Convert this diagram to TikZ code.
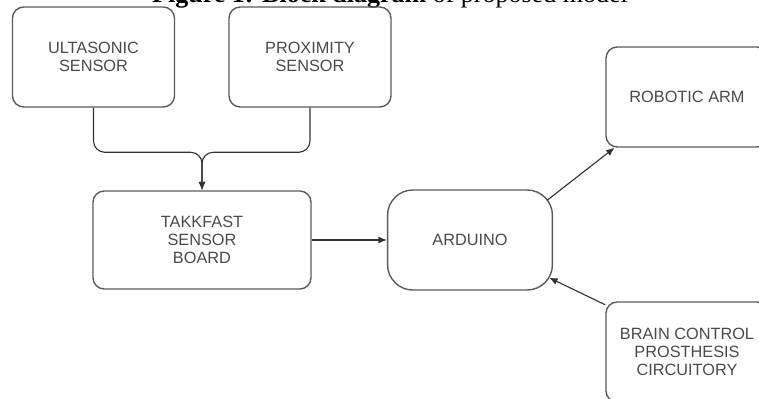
\documentclass[tikz,border=0pt]{standalone}
\usepackage{fontspec}
\setmainfont{Liberation Sans}
\newfontfamily\capfont{Liberation Serif}
\usetikzlibrary{arrows.meta,positioning,calc}
\definecolor{edge}{HTML}{5A5A5A}
\definecolor{label}{HTML}{4A4A4A}
\tikzset{
  block/.style={draw=edge, line width=1pt, rounded corners=8pt, align=center,
    text=label, font=\fontsize{11.6}{13}\selectfont,
    minimum width=4.05cm, minimum height=2.5cm},
  link/.style={draw=black!80, line width=0.8pt, -{Latex[length=6pt,width=5pt]}}
}
\begin{document}
\begin{tikzpicture}[x=0.025cm,y=-0.025cm]
	\useasboundingbox (0,0) rectangle (759,399);
	\node[font=\capfont\fontsize{18.5}{20}\selectfont, anchor=base] (cap) at (390,3) {\textbf{Figure 1: Block diagram} of proposed model};
	
	\node[block] (ultra) at (93.5,57) {ULTASONIC\\SENSOR};
	\node[block] (prox) at (310,57) {PROXIMITY\\SENSOR};
	\node[block, minimum width=5.45cm, minimum height=2.45cm] (takk) at (202,240) {TAKKFAST\\SENSOR\\BOARD};
	\node[block, minimum width=4.12cm, rounded corners=18pt] (ardu) at (470,240) {ARDUINO};
	\node[block] (robot) at (687,97) {ROBOTIC ARM};
	\node[block] (brain) at (687,352) {BRAIN CONTROL\\PROSTHESIS\\CIRCUITORY};
	
	\path (takk.north) ++(0,-38) coordinate (join);
	\draw[link, rounded corners=8pt] (ultra.south) |- (join) -- (takk.north);
	\draw[link, rounded corners=8pt] (prox.south) |- (join) -- (takk.north);
	\draw[link] (takk) -- (ardu);
	\draw[link] ($(ardu.north east)+(-6,11)$) -- (robot.215);
	\draw[link] (brain.150) -- ($(ardu.south east)+(-4,-13)$);
\end{tikzpicture}
\end{document}
